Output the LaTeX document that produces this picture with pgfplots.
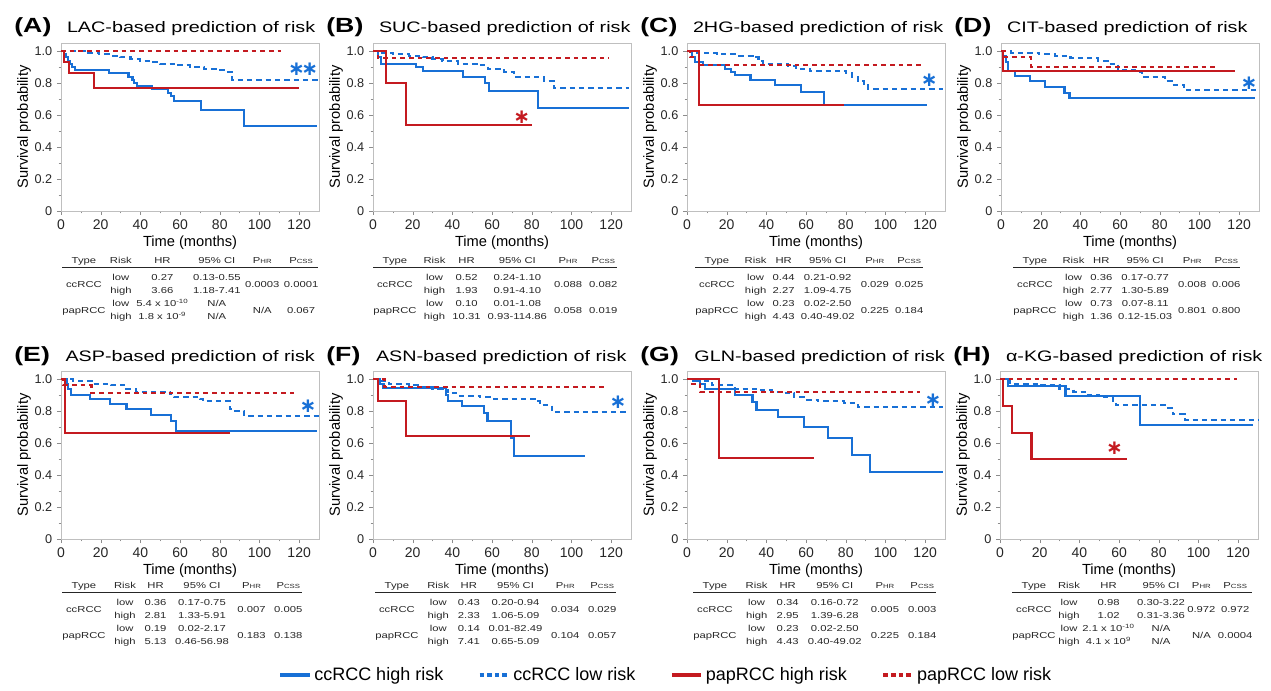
\documentclass[border=0pt]{standalone}
\usepackage{fontspec}
\setmainfont{Liberation Sans}
\newfontfamily\djv{DejaVu Sans}
\usepackage{pgfplots}
\pgfplotsset{compat=1.18}
\usepackage{multirow}

\definecolor{ccblue}{RGB}{24,112,214}
\definecolor{papred}{RGB}{196,26,32}
% 1 px of the reference = 0.75pt
\newcommand{\px}{*0.75pt}
\newcommand{\tabfont}{\fontsize{6.5}{9.75}\selectfont}
\newcommand{\sm}[1]{{\fontsize{4.5}{5}\selectfont #1}}
\newcommand{\kmtab}[2]{%
  \setlength{\tabcolsep}{0.5pt}%
  \begin{tabular*}{#1}{@{\extracolsep{\fill}}cccccc@{}}
  Type & Risk & HR & 95\% CI & P\sm{HR} & P\sm{CSS}\\
  \hline\noalign{\vskip 3pt}
  #2
  \end{tabular*}}
\newcommand{\ttl}[2]{{\fontsize{15.4}{16}\selectfont\bfseries (#1)}\hspace{9pt}{\fontsize{11.4}{12}\selectfont #2-based prediction of risk}}

\tikzset{
  kmstar/.style={font=\djv\bfseries\fontsize{15}{15}\selectfont, inner sep=0pt},
  kmtabnode/.style={anchor=north west, xscale=1.3, inner sep=0pt, font=\tabfont, text=black!85},
}

\pgfplotsset{
  km/.style={
    scale only axis, width=193.5pt, height=126pt, anchor=south west,
    xmin=0, xmax=130, ymin=0, ymax=1.05, clip=false,
    xtick={0,20,...,120}, ytick={0,0.2,0.4,0.6,0.8,1.0},
    yticklabels={0,0.2,0.4,0.6,0.8,1.0},
    minor x tick num=1, minor y tick num=1,
    tick align=outside, tick pos=left,
    major tick length=3pt, minor tick length=1.8pt,
    axis line style={black!25}, tick style={black!45},
    /pgf/number format/assume math mode=true,
    xticklabel style={font=\fontsize{10.5}{11}\selectfont, text=black!85},
    yticklabel style={font=\fontsize{9.5}{10}\selectfont, text=black!85},
    xlabel={Time (months)}, ylabel={Survival probability},
    xlabel style={font=\fontsize{11}{12}\selectfont, yshift=2pt},
    ylabel style={font=\fontsize{11}{12}\selectfont},
    ylabel shift=-4pt,
  },
  chi/.style={const plot, no markers, ccblue, line width=1.6pt},
  clo/.style={const plot, no markers, ccblue, line width=1.6pt, dash pattern=on 4pt off 3pt},
  phi/.style={const plot, no markers, papred, line width=1.6pt},
  plo/.style={const plot, no markers, papred, line width=1.6pt, dash pattern=on 3.5pt off 3pt},
}

\begin{document}
\begin{tikzpicture}
\useasboundingbox (0,0) rectangle (1271\px,-691\px);

% ---------------- (A) LAC
\begin{axis}[km, at={(61\px,-211\px)}]
\addplot[chi] coordinates {(0,1) (1.5,0.98) (2.5,0.96) (3.5,0.94) (4.5,0.92) (5.5,0.90) (7,0.88) (24,0.86) (34,0.84) (36,0.82) (37,0.80) (38.5,0.78) (46,0.76) (54,0.74) (55.5,0.72) (57,0.69) (70.5,0.63) (92,0.53) (129,0.53)};
\addplot[clo] coordinates {(0,1) (12,0.99) (19,0.98) (25,0.97) (30,0.96) (35,0.95) (40,0.94) (45,0.93) (50,0.92) (58,0.91) (65,0.90) (72,0.89) (78,0.88) (82,0.87) (86,0.82) (130,0.82)};
\addplot[phi] coordinates {(0,1) (1.5,0.93) (4,0.86) (16.5,0.77) (120,0.77)};
\addplot[plo] coordinates {(0,1) (111,1)};
\node[kmstar, text=ccblue] at (axis cs:122,0.885) {∗\kern-2.5pt∗};
\end{axis}

% ---------------- (B) SUC
\begin{axis}[km, at={(373\px,-211\px)}]
\addplot[chi] coordinates {(0,1) (2.5,0.96) (4,0.92) (21.5,0.90) (25,0.875) (45.5,0.84) (56.5,0.80) (58.5,0.75) (83,0.645) (129,0.645)};
\addplot[clo] coordinates {(0,1) (3,0.99) (10,0.98) (18,0.97) (25,0.96) (30,0.95) (35,0.935) (43,0.92) (53,0.91) (58,0.89) (66,0.87) (71,0.84) (86,0.815) (91,0.77) (129,0.77)};
\addplot[phi] coordinates {(0,1) (6.5,0.80) (16.5,0.535) (80,0.535)};
\addplot[plo] coordinates {(0,1) (2.5,0.955) (119,0.955)};
\node[kmstar, text=papred] at (axis cs:75,0.585) {∗};
\end{axis}

% ---------------- (C) 2HG
\begin{axis}[km, at={(687\px,-211\px)}]
\addplot[chi] coordinates {(0,1) (2.5,0.96) (4,0.93) (8,0.915) (19,0.89) (22,0.87) (24,0.85) (32,0.82) (44.5,0.785) (57.5,0.745) (69,0.665) (121,0.665)};
\addplot[clo] coordinates {(0,1) (5,0.99) (15,0.98) (25,0.97) (33,0.96) (36,0.94) (38.5,0.92) (51,0.905) (55,0.89) (62,0.875) (80,0.86) (83,0.84) (86,0.81) (89,0.785) (91,0.765) (129,0.765)};
\addplot[phi] coordinates {(0,1) (6,0.665) (79,0.665)};
\addplot[plo] coordinates {(0,1) (1.5,0.96) (6,0.915) (118,0.915)};
\node[kmstar, text=ccblue] at (axis cs:122,0.82) {∗};
\end{axis}

% ---------------- (D) CIT
\begin{axis}[km, at={(1001\px,-211\px)}]
\addplot[chi] coordinates {(0,1) (1.2,0.97) (2.5,0.93) (3.6,0.875) (7,0.845) (14.5,0.81) (22,0.775) (32,0.74) (34.5,0.705) (128,0.705)};
\addplot[clo] coordinates {(0,1) (5,0.99) (19,0.98) (27,0.97) (35,0.955) (49,0.94) (54,0.92) (59,0.88) (69,0.87) (71,0.84) (82.5,0.81) (86,0.79) (92,0.755) (129,0.755)};
\addplot[phi] coordinates {(0,1) (1.2,0.875) (118,0.875)};
\addplot[plo] coordinates {(0,1) (2,0.96) (15.3,0.90) (108,0.90)};
\node[kmstar, text=ccblue] at (axis cs:125,0.80) {∗};
\end{axis}

% ---------------- (E) ASP
\begin{axis}[km, at={(61\px,-539\px)}]
\addplot[chi] coordinates {(0,1) (2.8,0.97) (3.7,0.935) (4.9,0.90) (14.6,0.875) (24.6,0.845) (33,0.81) (45.5,0.775) (55.6,0.74) (58,0.675) (129,0.675)};
\addplot[clo] coordinates {(0,1) (6,0.99) (16,0.97) (25,0.96) (33,0.94) (38,0.92) (55,0.905) (57,0.89) (70,0.875) (71.5,0.86) (85,0.81) (86.5,0.80) (92.4,0.77) (130,0.77)};
\addplot[phi] coordinates {(0,1) (2,0.665) (85,0.665)};
\addplot[plo] coordinates {(0,1) (1.2,0.96) (15.4,0.915) (117.5,0.915)};
\node[kmstar, text=ccblue] at (axis cs:124.5,0.83) {∗};
\end{axis}

% ---------------- (F) ASN
\begin{axis}[km, at={(373\px,-539\px)}]
\addplot[chi] coordinates {(0,1) (3.3,0.97) (5.3,0.945) (36.7,0.90) (38,0.865) (45,0.83) (56,0.785) (57.7,0.735) (69.5,0.63) (71,0.52) (107,0.52)};
\addplot[clo] coordinates {(0,1) (3.3,0.99) (8,0.97) (18,0.96) (23,0.95) (30,0.935) (35,0.93) (38,0.91) (43,0.895) (54,0.885) (61,0.875) (82,0.86) (84,0.835) (90,0.795) (129,0.795)};
\addplot[phi] coordinates {(0,1) (2.5,0.86) (16.5,0.645) (79,0.645)};
\addplot[plo] coordinates {(0,1) (5.8,0.95) (118,0.95)};
\node[kmstar, text=ccblue] at (axis cs:123.5,0.854) {∗};
\end{axis}

% ---------------- (G) GLN
\begin{axis}[km, at={(687\px,-539\px)}]
\addplot[chi] coordinates {(0,1) (3.3,0.985) (6.7,0.97) (9,0.935) (24,0.90) (33,0.855) (35,0.805) (46,0.76) (59,0.70) (71,0.63) (83,0.525) (92,0.42) (129,0.42)};
\addplot[clo] coordinates {(0,1) (5,0.99) (12.5,0.96) (24,0.94) (36,0.93) (43,0.92) (49,0.91) (54,0.885) (59,0.87) (66,0.86) (79,0.85) (86,0.825) (129,0.825)};
\addplot[phi] coordinates {(0,1) (16.3,0.505) (64,0.505)};
\addplot[plo] coordinates {(0,1) (1.7,0.97) (6.7,0.92) (117.5,0.92)};
\node[kmstar, text=ccblue] at (axis cs:124,0.87) {∗};
\end{axis}

% ---------------- (H) alpha-KG
\begin{axis}[km, at={(1000\px,-539\px)}]
\addplot[chi] coordinates {(0,1) (4.2,0.955) (33,0.895) (70.6,0.715) (127.4,0.715)};
\addplot[clo] coordinates {(0,1) (5,0.97) (20,0.96) (30,0.94) (37,0.92) (43.5,0.90) (50,0.885) (57,0.865) (58.5,0.835) (83.6,0.82) (87,0.78) (93,0.745) (130,0.745)};
\addplot[phi] coordinates {(0,1) (1.7,0.83) (5.9,0.665) (15.9,0.50) (64,0.50)};
\addplot[plo] coordinates {(0,1) (119.5,1)};
\node[kmstar, text=papred] at (axis cs:57.7,0.57) {∗};
\end{axis}

% ---------------- titles
\foreach \xx/\yy/\ll/\nn in {14/33/A/LAC, 326/33/B/SUC, 640/33/C/2HG, 954/33/D/CIT,
                             14/362/E/ASP, 326/362/F/ASN, 640/362/G/GLN, 953/362/H/α-KG}
  \node[anchor=base west, xscale=1.3, inner sep=0pt] at (\xx\px,-\yy\px) {\ttl{\ll}{\nn}};

% ---------------- tables
\node[kmtabnode] at (62\px,-254\px) {\kmtab{147.7pt}{%
  \multirow{2}{*}{ccRCC} & low & 0.27 & 0.13-0.55 & \multirow{2}{*}{0.0003} & \multirow{2}{*}{0.0001}\\
   & high & 3.66 & 1.18-7.41 & & \\
  \multirow{2}{*}{papRCC} & low & 5.4 x 10\textsuperscript{-10} & N/A & \multirow{2}{*}{N/A} & \multirow{2}{*}{0.067}\\
   & high & 1.8 x 10\textsuperscript{-9} & N/A & & \\}};
\node[kmtabnode] at (373\px,-254\px) {\kmtab{140.8pt}{%
  \multirow{2}{*}{ccRCC} & low & 0.52 & 0.24-1.10 & \multirow{2}{*}{0.088} & \multirow{2}{*}{0.082}\\
   & high & 1.93 & 0.91-4.10 & & \\
  \multirow{2}{*}{papRCC} & low & 0.10 & 0.01-1.08 & \multirow{2}{*}{0.058} & \multirow{2}{*}{0.019}\\
   & high & 10.31 & 0.93-114.86 & & \\}};
\node[kmtabnode] at (695\px,-254\px) {\kmtab{131.5pt}{%
  \multirow{2}{*}{ccRCC} & low & 0.44 & 0.21-0.92 & \multirow{2}{*}{0.029} & \multirow{2}{*}{0.025}\\
   & high & 2.27 & 1.09-4.75 & & \\
  \multirow{2}{*}{papRCC} & low & 0.23 & 0.02-2.50 & \multirow{2}{*}{0.225} & \multirow{2}{*}{0.184}\\
   & high & 4.43 & 0.40-49.02 & & \\}};
\node[kmtabnode] at (1013\px,-254\px) {\kmtab{131pt}{%
  \multirow{2}{*}{ccRCC} & low & 0.36 & 0.17-0.77 & \multirow{2}{*}{0.008} & \multirow{2}{*}{0.006}\\
   & high & 2.77 & 1.30-5.89 & & \\
  \multirow{2}{*}{papRCC} & low & 0.73 & 0.07-8.11 & \multirow{2}{*}{0.801} & \multirow{2}{*}{0.800}\\
   & high & 1.36 & 0.12-15.03 & & \\}};
\node[kmtabnode] at (62\px,-579\px) {\kmtab{138.5pt}{%
  \multirow{2}{*}{ccRCC} & low & 0.36 & 0.17-0.75 & \multirow{2}{*}{0.007} & \multirow{2}{*}{0.005}\\
   & high & 2.81 & 1.33-5.91 & & \\
  \multirow{2}{*}{papRCC} & low & 0.19 & 0.02-2.17 & \multirow{2}{*}{0.183} & \multirow{2}{*}{0.138}\\
   & high & 5.13 & 0.46-56.98 & & \\}};
\node[kmtabnode] at (375\px,-579\px) {\kmtab{139pt}{%
  \multirow{2}{*}{ccRCC} & low & 0.43 & 0.20-0.94 & \multirow{2}{*}{0.034} & \multirow{2}{*}{0.029}\\
   & high & 2.33 & 1.06-5.09 & & \\
  \multirow{2}{*}{papRCC} & low & 0.14 & 0.01-82.49 & \multirow{2}{*}{0.104} & \multirow{2}{*}{0.057}\\
   & high & 7.41 & 0.65-5.09 & & \\}};
\node[kmtabnode] at (693\px,-579\px) {\kmtab{140.2pt}{%
  \multirow{2}{*}{ccRCC} & low & 0.34 & 0.16-0.72 & \multirow{2}{*}{0.005} & \multirow{2}{*}{0.003}\\
   & high & 2.95 & 1.39-6.28 & & \\
  \multirow{2}{*}{papRCC} & low & 0.23 & 0.02-2.50 & \multirow{2}{*}{0.225} & \multirow{2}{*}{0.184}\\
   & high & 4.43 & 0.40-49.02 & & \\}};
\node[kmtabnode] at (1012\px,-579\px) {\kmtab{138.5pt}{%
  \multirow{2}{*}{ccRCC} & low & 0.98 & 0.30-3.22 & \multirow{2}{*}{0.972} & \multirow{2}{*}{0.972}\\
   & high & 1.02 & 0.31-3.36 & & \\
  \multirow{2}{*}{papRCC} & low & 2.1 x 10\textsuperscript{-10} & N/A & \multirow{2}{*}{N/A} & \multirow{2}{*}{0.0004}\\
   & high & 4.1 x 10\textsuperscript{9} & N/A & & \\}};

% ---------------- shared legend
\begin{axis}[hide axis, scale only axis, width=20pt, height=10pt,
  xmin=0, xmax=1, ymin=0, ymax=1,
  at={(666\px,-675\px)}, anchor=center,
  legend columns=4,
  legend style={at={(0.5,0.5)}, anchor=center, draw=none, fill=none,
    font=\fontsize{13.5}{14}\selectfont,
    /tikz/every even column/.append style={column sep=24pt}},
  legend image code/.code={\draw[#1] (0pt,0pt) -- (22pt,0pt);}]
\addlegendimage{ccblue, line width=3pt}
\addlegendentry{ccRCC high risk}
\addlegendimage{ccblue, line width=2.5pt, dash pattern=on 3.5pt off 2.2pt}
\addlegendentry{ccRCC low risk}
\addlegendimage{papred, line width=3pt}
\addlegendentry{papRCC high risk}
\addlegendimage{papred, line width=2.5pt, dash pattern=on 3.5pt off 2.2pt}
\addlegendentry{papRCC low risk}
\end{axis}
\end{tikzpicture}
\end{document}
